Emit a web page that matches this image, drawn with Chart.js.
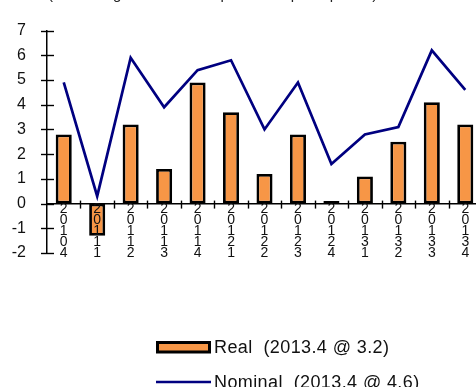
<!DOCTYPE html>
<html>
<head>
<meta charset="utf-8">
<script src="https://cdn.jsdelivr.net/npm/chart.js@4/dist/chart.umd.min.js"></script>
<style>
  html, body { margin: 0; padding: 0; background: #fff; overflow: hidden; }
  #wrap { position: relative; width: 490px; height: 387px; }
</style>
</head>
<body>
<div id="wrap"><canvas id="chart"></canvas></div>
<script>
// Quarterly growth, annualized (%)
const quarters = ['2010.4', '2011.1', '2011.2', '2011.3', '2011.4', '2012.1', '2012.2',
                  '2012.3', '2012.4', '2013.1', '2013.2', '2013.3', '2013.4'];
const realGrowth    = [2.8, -1.3, 3.2, 1.4, 4.9, 3.7, 1.2, 2.8, 0.1, 1.1, 2.5, 4.1, 3.2];
const nominalGrowth = [4.9, 0.3, 5.9, 3.9, 5.4, 5.8, 3.0, 4.9, 1.6, 2.8, 3.1, 6.2, 4.6];
const yTicks = [-2, -1, 0, 1, 2, 3, 4, 5, 6, 7];
const seriesNames = ['Real', 'Nominal'];
const subtitle = '(Percentage at an annual pace over prior quarter)';

const ORANGE = '#F79646';
const NAVY = '#000080';
const FONT = '"Liberation Sans", Arial, sans-serif';

const legendText = (name, values) =>
  `${name}  (${quarters[quarters.length - 1]} @ ${values[values.length - 1].toFixed(1)})`;

// Tick marks that cross both axes, plus the subtitle and the stacked legend
const decorations = {
  id: 'decorations',
  afterDraw(chart) {
    const { ctx, scales: { x, y } } = chart;
    const y0 = y.getPixelForValue(0);
    ctx.save();
    ctx.strokeStyle = '#000';
    ctx.lineWidth = 1.4;
    // y-axis ticks
    yTicks.forEach(v => {
      const py = Math.round(y.getPixelForValue(v)) + 0.5;
      ctx.beginPath();
      ctx.moveTo(x.left - 6, py);
      ctx.lineTo(x.left + 7, py);
      ctx.stroke();
    });
    // x-axis ticks between categories
    const step = (x.right - x.left) / quarters.length;
    for (let i = 1; i < quarters.length; i++) {
      const px = Math.round(x.left + i * step) + 0.5;
      ctx.beginPath();
      ctx.moveTo(px, y0 - 3);
      ctx.lineTo(px, y0 + 5);
      ctx.stroke();
    }

    // subtitle (its top runs past the canvas edge)
    ctx.fillStyle = '#222';
    ctx.font = '15px ' + FONT;
    ctx.textAlign = 'left';
    ctx.textBaseline = 'alphabetic';
    ctx.fillText(subtitle, 48, -1.5);

    // legend
    ctx.font = '18px ' + FONT;
    ctx.letterSpacing = '0.4px';
    ctx.fillStyle = ORANGE;
    ctx.fillRect(157.5, 342.5, 52, 9.5);
    ctx.lineWidth = 3;
    ctx.strokeStyle = '#000';
    ctx.strokeRect(157.5, 342.5, 52, 9.5);
    ctx.fillStyle = '#111';
    ctx.fillText(legendText(seriesNames[0], realGrowth), 214, 352.8);

    ctx.strokeStyle = NAVY;
    ctx.lineWidth = 2.6;
    ctx.beginPath();
    ctx.moveTo(156, 382);
    ctx.lineTo(211, 382);
    ctx.stroke();
    ctx.fillStyle = '#111';
    ctx.fillText(legendText(seriesNames[1], nominalGrowth), 214, 387.5);
    ctx.restore();
  }
};

new Chart(document.getElementById('chart'), {
  data: {
    labels: quarters,
    datasets: [
      {
        type: 'line',
        label: seriesNames[1],
        data: nominalGrowth,
        borderColor: NAVY,
        borderWidth: 2.7,
        pointRadius: 0,
        tension: 0,
        fill: false,
        order: 0
      },
      {
        type: 'bar',
        label: seriesNames[0],
        data: realGrowth,
        backgroundColor: ORANGE,
        borderColor: '#000',
        borderWidth: 2.8,
        borderSkipped: false,
        barPercentage: 0.48,
        categoryPercentage: 1,
        order: 1
      }
    ]
  },
  options: {
    responsive: true,
    maintainAspectRatio: false,
    animation: false,
    layout: { autoPadding: false, padding: { left: 0, right: 8, top: 24, bottom: 134 } },
    plugins: { legend: { display: false }, tooltip: { enabled: false } },
    scales: {
      x: {
        type: 'category',
        position: { y: 0 },
        offset: true,
        afterFit(scale) { scale.height = 0; },
        grid: { display: true, drawOnChartArea: false, drawTicks: false },
        border: { display: true, color: '#000', width: 1.5, z: 1 },
        ticks: {
          z: 1,
          autoSkip: false,
          maxRotation: 0,
          minRotation: 0,
          padding: 0,
          color: '#111',
          font: { family: FONT, size: 14, lineHeight: '11px' },
          callback(value, index) {
            return quarters[index].replace('.', '').split('');
          }
        }
      },
      y: {
        type: 'linear',
        position: 'left',
        min: yTicks[0],
        max: yTicks[yTicks.length - 1],
        afterFit(scale) { scale.width = 47; },
        afterBuildTicks(scale) { scale.ticks = yTicks.map(v => ({ value: v })); },
        grid: { display: false, drawTicks: false },
        border: { display: true, color: '#000', width: 1.5 },
        ticks: {
          padding: 21,
          color: '#111',
          font: { family: FONT, size: 16 }
        }
      }
    }
  },
  plugins: [decorations]
});
</script>
</body>
</html>
